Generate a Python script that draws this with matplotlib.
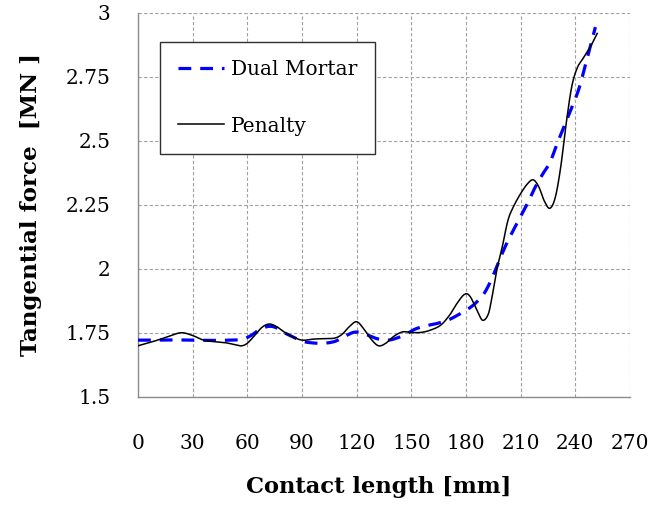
import matplotlib.pyplot as plt
import numpy as np

# contact length [mm] vs tangential force [MN]
penalty_x = [0, 6, 12, 18, 24, 30, 36, 42, 48, 54, 57, 60, 64, 68, 72, 76, 80, 84,
             90, 96, 102, 108, 112, 116, 120, 124, 128, 132, 136, 140, 145, 150, 155,
             160, 166, 171, 175, 179, 182, 186, 189, 192, 194, 197, 200, 203, 206,
             210, 214, 217, 220, 223, 226, 229, 232, 235, 238, 241, 244, 248, 252]
penalty_y = [1.700, 1.712, 1.725, 1.740, 1.751, 1.740, 1.722, 1.716, 1.712, 1.703,
             1.700, 1.710, 1.740, 1.772, 1.785, 1.775, 1.755, 1.738, 1.722, 1.726,
             1.728, 1.730, 1.745, 1.775, 1.794, 1.765, 1.725, 1.700, 1.710, 1.735,
             1.754, 1.752, 1.752, 1.760, 1.780, 1.820, 1.865, 1.900, 1.895, 1.840,
             1.800, 1.820, 1.880, 2.000, 2.090, 2.190, 2.243, 2.295, 2.335, 2.348,
             2.320, 2.265, 2.237, 2.280, 2.400, 2.570, 2.712, 2.785, 2.820, 2.865,
             2.920]

mortar_x = [0, 10, 20, 30, 40, 50, 57, 62, 67, 72, 76, 80, 85, 90, 96, 102, 108,
            113, 118, 122, 126, 131, 137, 142, 147, 152, 158, 164, 170, 176, 182,
            186, 190, 194, 198, 202, 206, 210, 214, 218, 222, 226, 230, 234, 238,
            242, 246, 251]
mortar_y = [1.722, 1.722, 1.723, 1.722, 1.721, 1.722, 1.725, 1.740, 1.765, 1.776,
            1.770, 1.752, 1.735, 1.718, 1.711, 1.710, 1.717, 1.735, 1.752, 1.752,
            1.742, 1.728, 1.722, 1.730, 1.745, 1.765, 1.778, 1.787, 1.800, 1.822,
            1.848, 1.872, 1.905, 1.960, 2.030, 2.095, 2.152, 2.205, 2.260, 2.320,
            2.370, 2.415, 2.490, 2.560, 2.630, 2.705, 2.810, 2.945]


def smooth_path(x, y, steps=12):
    # smoothed-line rendering (Catmull-Rom through every data point)
    x = np.asarray(x, float)
    y = np.asarray(y, float)
    px = np.concatenate([[2 * x[0] - x[1]], x, [2 * x[-1] - x[-2]]])
    py = np.concatenate([[2 * y[0] - y[1]], y, [2 * y[-1] - y[-2]]])
    t = np.linspace(0, 1, steps, endpoint=False)[:, None]
    t2, t3 = t * t, t * t * t
    def seg(p):
        p0, p1, p2, p3 = p[:-3], p[1:-2], p[2:-1], p[3:]
        c = 0.5 * (2 * p1 + (-p0 + p2) * t + (2 * p0 - 5 * p1 + 4 * p2 - p3) * t2
                   + (-p0 + 3 * p1 - 3 * p2 + p3) * t3)
        return np.append(c.T.ravel(), p[-2])
    return seg(px), seg(py)


plt.rcParams['font.family'] = 'DejaVu Serif'

fig = plt.figure(figsize=(6.52, 5.07), dpi=100)
ax = fig.add_axes([0.2117, 0.2170, 0.7546, 0.7574])

mx, my = smooth_path(mortar_x, mortar_y)
px, py = smooth_path(penalty_x, penalty_y)
ax.plot(mx, my, color='#0000ff', lw=2.3, dashes=(4, 2.8),
        label='Dual Mortar', zorder=3)
ax.plot(px, py, color='black', lw=1.1, label='Penalty', zorder=4)

ax.set_xlim(0, 270)
ax.set_ylim(1.5, 3)
ax.set_xticks(np.arange(0, 271, 30))
ax.set_yticks([1.5, 1.75, 2, 2.25, 2.5, 2.75, 3])
ax.set_yticklabels(['1.5', '1.75', '2', '2.25', '2.5', '2.75', '3'])

ax.grid(True, color='#a0a0a0', lw=0.8, linestyle=(0, (3, 2)))
ax.set_axisbelow(True)
for s in ['top', 'right']:
    ax.spines[s].set_visible(False)
for s in ['left', 'bottom']:
    ax.spines[s].set_color('#8c8c8c')
    ax.spines[s].set_linewidth(1.0)

ax.tick_params(axis='both', length=0, labelsize=14.5)
ax.tick_params(axis='x', pad=27)
ax.tick_params(axis='y', pad=20)

ax.set_xlabel('Contact length [mm]', fontsize=16.3, fontweight='bold')
ax.set_ylabel('Tangential force  [MN ]', fontsize=16.6, fontweight='bold', labelpad=17)
ax.xaxis.set_label_coords(0.49, -0.205)

leg = ax.legend(loc='upper left', bbox_to_anchor=(0.0447, 0.924), borderaxespad=0,
                fontsize=14.5, frameon=True, fancybox=False, framealpha=1,
                handlelength=2.3, handletextpad=0.3, labelspacing=1.85,
                borderpad=0.9)
leg.get_frame().set_edgecolor('#303030')
leg.get_frame().set_linewidth(1.0)

fig.savefig('out.png', dpi=100)
